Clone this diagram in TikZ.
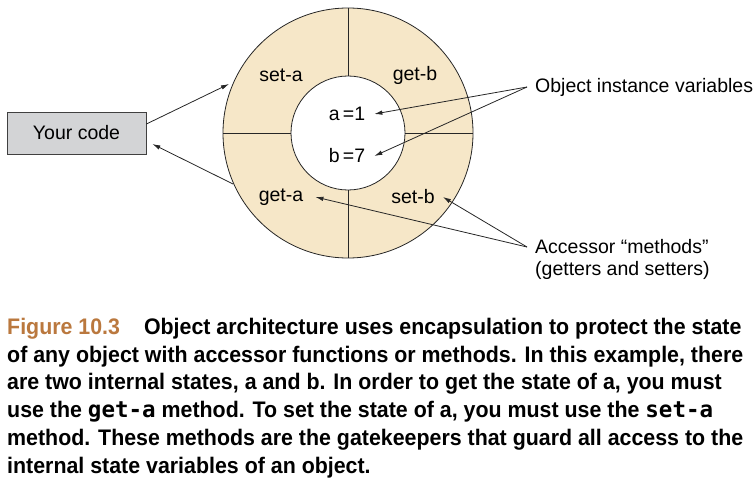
\documentclass[tikz,border=0pt]{standalone}
\usepackage{fontspec}
\setmainfont{Liberation Sans}
\newfontfamily\capfont[FakeStretch=0.95]{Liberation Sans}
\newfontfamily\capmono{DejaVu Sans Mono}
\usetikzlibrary{arrows.meta}

\definecolor{ringfill}{RGB}{246,231,200}
\definecolor{boxfill}{RGB}{211,212,214}
\definecolor{figbrown}{RGB}{186,120,62}

\tikzstyle{tag} = [font=\fontsize{19.5}{22}\selectfont, inner sep=0pt]
\tikzstyle{note} = [tag, anchor=west, inner xsep=8pt]
\tikzstyle{codebox} = [draw=black!75, fill=boxfill, line width=0.8pt, minimum width=139pt, minimum height=42pt, font=\fontsize{19.5}{22}\selectfont]
\tikzstyle{ptr} = [-{Latex[length=8pt,width=4.5pt]}, line width=0.8pt, black!85]
\tikzstyle{caption} = [anchor=north west, align=left, inner sep=0pt, font=\capfont\bfseries\fontsize{22.5}{27.7}\selectfont]

\begin{document}
\begin{tikzpicture}[x=1pt, y=-1pt]
\useasboundingbox (0,0) rectangle (755,492);

% the object: ring of accessors round the state
\fill[ringfill] (348,133) circle (125);
\fill[white] (348,133) circle (57);
\draw[line width=0.8pt, black!85] (348,133) circle (125);
\draw[line width=0.8pt, black!85] (348,133) circle (57);
\draw[line width=0.8pt, black!85] (348,8) -- (348,76);
\draw[line width=0.8pt, black!85] (348,190) -- (348,258);
\draw[line width=0.8pt, black!85] (223,133) -- (291,133);
\draw[line width=0.8pt, black!85] (405,133) -- (473,133);

\node[tag] (seta) at (281,75) {set-a};
\node[tag] (getb) at (415,75) {get-b};
\node[tag] (geta) at (281,197) {get-a};
\node[tag] (setb) at (413,197) {set-b};
\node[tag] (vara) at (347,114) {a\,=1};
\node[tag] (varb) at (347,156) {b\,=7};

\node[codebox] (yourcode) at (76.5,133) {Your code};
\coordinate (ringin) at (229,84);
\coordinate (ringout) at (233,184);

\node[note] (instvars) at (527,87) {Object instance variables};
\node[note] (acc1) at (527,247) {Accessor “methods”};
\node[note] (acc2) at (527,270) {(getters and setters)};

% connectors
\draw[ptr] ([yshift=9pt]yourcode.east) -- (ringin);
\draw[ptr] (ringout) -- ([xshift=6pt,yshift=-11pt]yourcode.east);
\draw[ptr] (instvars.west) -- ([xshift=9pt]vara.east);
\draw[ptr] (instvars.west) -- ([xshift=9pt]varb.east);
\draw[ptr] (acc1.west) -- ([xshift=8pt]setb.east);
\draw[ptr] (acc1.west) -- ([xshift=12pt]geta.east);

% caption
\node[caption] (figcap) at (7,318) {{\color{figbrown}Figure 10.3}\hspace{24pt}Object architecture uses encapsulation to protect the state\\
of any object with accessor functions or methods. In this example, there\\
are two internal states, a and b. In order to get the state of a, you must\\
use the {\capmono get-a} method. To set the state of a, you must use the {\capmono set-a}\\
method. These methods are the gatekeepers that guard all access to the\\
internal state variables of an object.};
\end{tikzpicture}
\end{document}
